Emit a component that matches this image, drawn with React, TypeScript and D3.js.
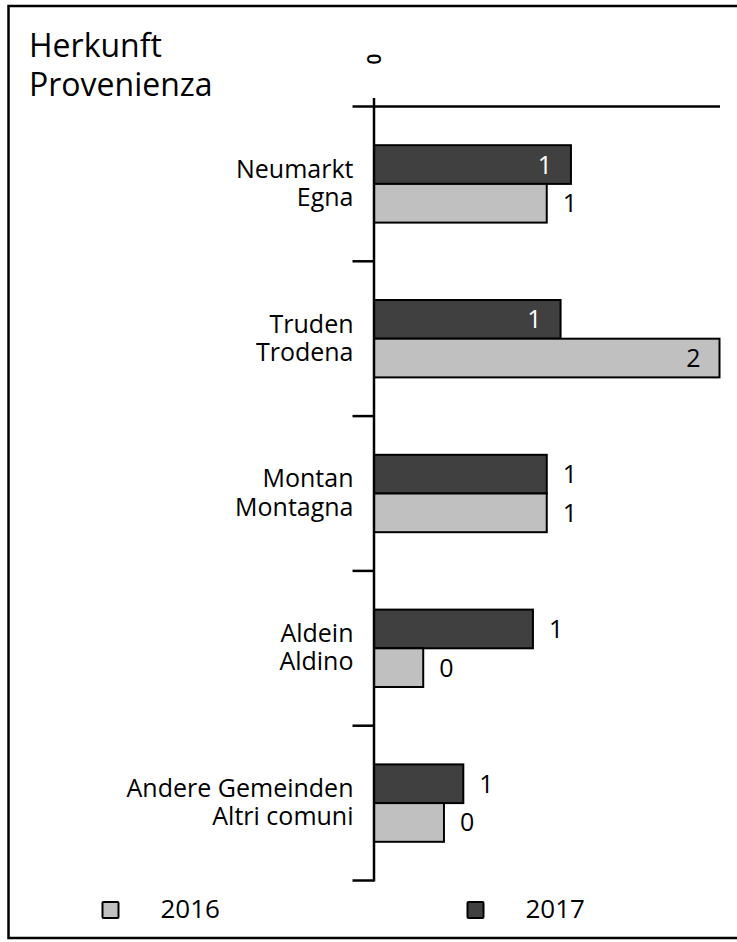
import React from "react";
import * as d3 from "d3";

const categoriesDe = ["Neumarkt", "Truden", "Montan", "Aldein", "Andere Gemeinden"];
const categoriesIt = ["Egna", "Trodena", "Montagna", "Aldino", "Altri comuni"];
const values2016 = [1.0, 2.0, 1.0, 0.285, 0.405];
const values2017 = [1.14, 1.08, 1.0, 0.92, 0.517];
const seriesNames = ["2016", "2017"];
const xDomainMax = 2;
const axisTickLabel = "0";

const W = 737;
const H = 942;
const FONT = "'Open Sans', 'DejaVu Sans', sans-serif";
const LIGHT = "#c0c0c0";
const DARK = "#404040";

export default function App() {
  const x = d3.scaleLinear().domain([0, xDomainMax]).range([374, 719.5]);
  const y = d3.scaleBand<string>().domain(categoriesDe).range([106.5, 880.5]).padding(0);
  const barH = y.bandwidth() * 0.25;
  const fmt = d3.format(".0f");
  const ticks = [...categoriesDe.map((c) => y(c)!), y.range()[1]];

  return (
    <svg
      width={W}
      height={H}
      style={{ position: "absolute", left: 0, top: 0, background: "#fff" }}
      fontFamily={FONT}
    >
      <rect x={8.5} y={6} width={740} height={932} fill="#fff" stroke="#000" strokeWidth={2.5} />
      <text x={29} fontSize={32} fill="#000">
        <tspan x={29} y={56.7}>Herkunft</tspan>
        <tspan x={29} y={96}>Provenienza</tspan>
      </text>

      {/* top axis tick label */}
      <text
        transform={`translate(${x(0) + 6.5},${59}) rotate(-90)`}
        fontSize={19}
        fontWeight={600}
        textAnchor="middle"
        fill="#000"
      >
        {axisTickLabel}
      </text>

      {categoriesDe.map((c, i) => {
        const center = y(c)! + y.bandwidth() / 2;
        const y17 = center - barH;
        const y16 = center;
        const bars = [
          { v: values2017[i], yy: y17, fill: DARK, inColor: "#fff" },
          { v: values2016[i], yy: y16, fill: LIGHT, inColor: "#000" },
        ];
        return (
          <g key={c}>
            <text fontSize={25} textAnchor="end" fill="#000">
              <tspan x={353.5} y={center - 6.2}>{c}</tspan>
              <tspan x={353.5} y={center + 22}>{categoriesIt[i]}</tspan>
            </text>
            {bars.map((b, j) => {
              const inside = b.v > 1.05;
              const xe = x(b.v);
              return (
                <g key={j}>
                  <rect
                    x={x(0)}
                    y={b.yy}
                    width={xe - x(0)}
                    height={barH}
                    fill={b.fill}
                    stroke="#000"
                    strokeWidth={2}
                  />
                  <text
                    x={inside ? xe - 19 : xe + 16}
                    y={b.yy + barH / 2}
                    dy="0.36em"
                    fontSize={25}
                    textAnchor={inside ? "end" : "start"}
                    fill={inside ? b.inColor : "#000"}
                  >
                    {fmt(b.v)}
                  </text>
                </g>
              );
            })}
          </g>
        );
      })}

      {/* axes */}
      <line x1={352.5} x2={720} y1={y.range()[0]} y2={y.range()[0]} stroke="#000" strokeWidth={2.5} />
      <line x1={x(0)} x2={x(0)} y1={98} y2={y.range()[1] + 1} stroke="#000" strokeWidth={2.5} />
      {ticks.slice(1).map((t, i) => (
        <line key={i} x1={352.5} x2={x(0)} y1={t} y2={t} stroke="#000" strokeWidth={2.5} />
      ))}

      {/* legend */}
      <rect x={102.5} y={902} width={16} height={16} fill={LIGHT} stroke="#000" strokeWidth={2} rx={1} />
      <text x={160.5} y={918.3} fontSize={26} fill="#000">{seriesNames[0]}</text>
      <rect x={467.5} y={902} width={16} height={16} fill={DARK} stroke="#000" strokeWidth={2} rx={1} />
      <text x={525.5} y={918.3} fontSize={26} fill="#000">{seriesNames[1]}</text>
    </svg>
  );
}
